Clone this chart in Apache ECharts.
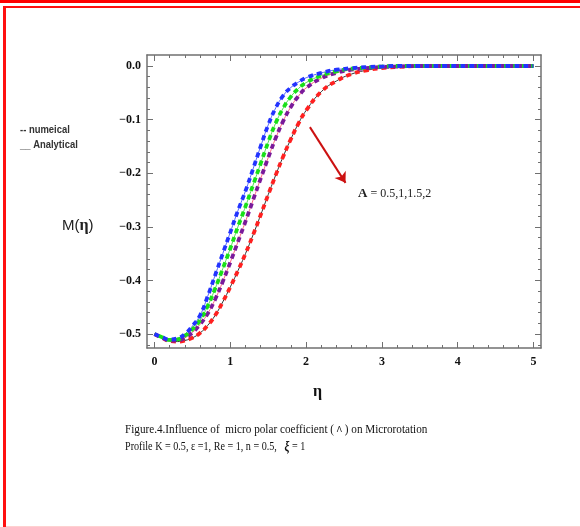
<!DOCTYPE html>
<html>
<head>
<meta charset="utf-8">
<script src="https://cdn.jsdelivr.net/npm/echarts@6/dist/echarts.min.js"></script>
<style>
  body { margin: 0; background: #fff; }
  #wrap { position: relative; width: 580px; height: 527px; overflow: hidden; }
  #chart { position: absolute; left: 0; top: 0; width: 580px; height: 527px; }
  .bar-top { position: absolute; left: 0; top: 0; width: 580px; height: 3px; background: #ff0000; }
  .frame { position: absolute; left: 3px; top: 6px; width: 600px; height: 519px;
           border-top: 2px solid #ff1010; border-left: 3px solid #ff1010; }
  .bottom { position: absolute; left: 6px; top: 526px; width: 580px; height: 1px; background: #ffd0d0; }
</style>
</head>
<body>
<div id="wrap">
  <div id="chart"></div>
  <div class="bar-top"></div>
  <div class="frame"></div>
  <div class="bottom"></div>
</div>
<script>
// eta grid shared by all curves
var eta = [0, 0.1, 0.2, 0.3, 0.4, 0.5, 0.6, 0.7, 0.8, 0.9, 1.0, 1.1, 1.2, 1.3, 1.4, 1.5,
           1.6, 1.7, 1.8, 1.9, 2.0, 2.2, 2.4, 2.6, 2.8, 3.0, 3.2, 3.5, 4.0, 4.5, 5.0];

// M(eta), one array per Lambda value
var mBlue   = [-0.500, -0.506, -0.510, -0.508, -0.500, -0.485, -0.465, -0.430, -0.390, -0.350, -0.310, -0.270, -0.233, -0.192, -0.150, -0.110,
               -0.078, -0.055, -0.040, -0.030, -0.022, -0.013, -0.007, -0.004, -0.002, -0.001, 0, 0, 0, 0, 0];
var mGreen  = [-0.500, -0.506, -0.511, -0.510, -0.503, -0.491, -0.474, -0.448, -0.415, -0.378, -0.340, -0.300, -0.262, -0.222, -0.182, -0.142,
               -0.106, -0.078, -0.057, -0.042, -0.031, -0.018, -0.010, -0.005, -0.003, -0.001, 0, 0, 0, 0, 0];
var mPurple = [-0.500, -0.507, -0.512, -0.512, -0.507, -0.497, -0.482, -0.462, -0.435, -0.402, -0.366, -0.328, -0.290, -0.250, -0.210, -0.171,
               -0.134, -0.102, -0.076, -0.056, -0.041, -0.023, -0.013, -0.007, -0.004, -0.002, -0.001, 0, 0, 0, 0];
var mRed    = [-0.500, -0.507, -0.513, -0.514, -0.512, -0.507, -0.498, -0.484, -0.465, -0.440, -0.412, -0.382, -0.350, -0.315, -0.278, -0.240,
               -0.203, -0.168, -0.136, -0.107, -0.083, -0.048, -0.028, -0.015, -0.008, -0.004, -0.002, 0, 0, 0, 0];

var xMajor = [0, 1, 2, 3, 4, 5];
var xMinor = [0.2, 0.4, 0.6, 0.8, 1.2, 1.4, 1.6, 1.8, 2.2, 2.4, 2.6, 2.8, 3.2, 3.4, 3.6, 3.8, 4.2, 4.4, 4.6, 4.8];
var yMajor = [-0.5, -0.4, -0.3, -0.2, -0.1, 0];
var yMinor = [-0.52, -0.48, -0.46, -0.44, -0.42, -0.38, -0.36, -0.34, -0.32, -0.28, -0.26, -0.24, -0.22,
              -0.18, -0.16, -0.14, -0.12, -0.08, -0.06, -0.04, -0.02];

function pairs(ys) {
  return eta.map(function (x, i) { return [x, ys[i]]; });
}

var chart = echarts.init(document.getElementById('chart'));

var frameColor = '#707070';
var labelFont = { fontFamily: 'Liberation Serif', fontWeight: 'bold', fontSize: 12, color: '#111' };

function xAx(pos, ticks, len, showLine, labels) {
  return {
    type: 'value', min: -0.1, max: 5.1, position: pos,
    axisLine: { show: showLine, onZero: false, lineStyle: { color: frameColor, width: 1.5 } },
    axisTick: { show: true, inside: true, length: len, customValues: ticks, lineStyle: { color: frameColor, width: 1 } },
    axisLabel: labels ? Object.assign({ customValues: xMajor, margin: 8 }, labelFont) : { show: false },
    splitLine: { show: false }
  };
}
function yAx(pos, ticks, len, showLine, labels) {
  return {
    type: 'value', min: -0.526, max: 0.0205, position: pos,
    axisLine: { show: showLine, onZero: false, lineStyle: { color: frameColor, width: 1.5 } },
    axisTick: { show: true, inside: true, length: len, customValues: ticks, lineStyle: { color: frameColor, width: 1 } },
    axisLabel: labels ? Object.assign({
      customValues: yMajor, margin: 6,
      formatter: function (v) { return (v < 0 ? '\u2212' : '') + Math.abs(v).toFixed(1); }
    }, labelFont) : { show: false },
    splitLine: { show: false }
  };
}

function analytic(name, ys, color) {
  return {
    name: name, type: 'line', data: pairs(ys), smooth: true, showSymbol: false,
    lineStyle: { color: color, width: 1 }, z: 2
  };
}
function numeric(name, ys, color, offset) {
  return {
    name: name, type: 'line', data: pairs(ys), smooth: true, showSymbol: false,
    lineStyle: { color: color, width: 3.8, type: [5, 4], dashOffset: offset || 0 }, z: 3
  };
}

chart.setOption({
  animation: false,
  backgroundColor: '#fff',
  grid: { left: 147, top: 55, right: 39, bottom: 179 },
  xAxis: [
    xAx('bottom', xMajor, 6, true, true),
    xAx('bottom', xMinor, 3, false, false),
    xAx('top', xMajor, 6, true, false),
    xAx('top', xMinor, 3, false, false)
  ],
  yAxis: [
    yAx('left', yMajor, 6, true, true),
    yAx('left', yMinor, 3, false, false),
    yAx('right', yMajor, 6, true, false),
    yAx('right', yMinor, 3, false, false)
  ],
  series: [
    analytic('red a', mRed, '#333333'),
    analytic('purple a', mPurple, '#ff6680'),
    analytic('green a', mGreen, '#55dd55'),
    analytic('blue a', mBlue, '#5566ff'),
    numeric('red', mRed, '#ff2020'),
    numeric('purple', mPurple, '#7a1a9a'),
    numeric('green', mGreen, '#18e018', 4.5),
    Object.assign(numeric('blue', mBlue, '#2233ff'), {
      markLine: {
        silent: true, symbol: ['none', 'arrow'], symbolSize: 10,
        lineStyle: { color: '#cc1111', width: 2, type: 'solid' },
        label: { show: false },
        data: [[{ coord: [2.05, -0.114] }, { coord: [2.52, -0.218] }]]
      }
    })
  ],
  graphic: [
    {
      type: 'text', left: 358, top: 187,
      style: {
        text: '{b|A} = 0.5,1,1.5,2',
        font: '12px "Liberation Serif"', fill: '#222',
        rich: { b: { fontFamily: 'Liberation Serif', fontWeight: 'bold', fontSize: 13 } }
      }
    },
    {
      type: 'text', left: 62, top: 218,
      style: {
        text: 'M({b|\u03b7})',
        font: '15px "Liberation Sans"', fill: '#222',
        rich: { b: { fontFamily: 'Liberation Serif', fontWeight: 'bold', fontSize: 16 } }
      }
    },
    {
      type: 'text', left: 313, top: 384,
      style: { text: '\u03b7', font: 'bold 16px "Liberation Serif"', fill: '#111' }
    },
    {
      type: 'text', left: 20, top: 125, scaleX: 0.9,
      style: { text: '-- numeical', font: 'bold 10.5px "Liberation Sans"', fill: '#333' }
    },
    {
      type: 'text', left: 20, top: 140, scaleX: 0.9,
      style: { text: '__ Analytical', font: 'bold 10.5px "Liberation Sans"', fill: '#333' }
    },
    {
      type: 'text', left: 125, top: 423, scaleX: 0.86,
      style: {
        text: 'Figure.4.Influence of  micro polar coefficient ( {g|\u039b} ) on Microrotation',
        font: '13px "Liberation Serif"', fill: '#111',
        rich: { g: { fontFamily: 'Liberation Sans', fontSize: 9, color: '#999' } }
      }
    },
    {
      type: 'text', left: 125, top: 440, scaleX: 0.78,
      style: {
        text: 'Profile K = 0.5, \u03b5 =1, Re = 1, n = 0.5,   {x|\u03be} = 1',
        font: '13px "Liberation Serif"', fill: '#111',
        rich: { x: { fontFamily: 'Liberation Serif', fontWeight: 'bold', fontStyle: 'italic', fontSize: 14 } }
      }
    }
  ]
});
</script>
</body>
</html>
